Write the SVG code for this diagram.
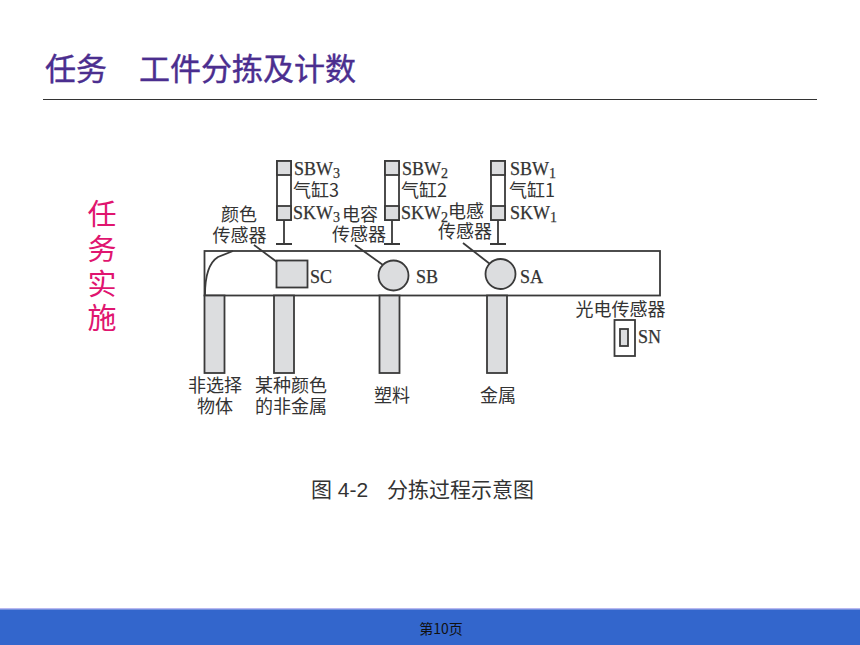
<svg xmlns="http://www.w3.org/2000/svg" width="860" height="645" viewBox="0 0 860 645">
<style>
.l{stroke:#3a3a3a;stroke-width:1.8;fill:none}
.g{stroke:#3a3a3a;stroke-width:1.8;fill:#dcdddf}
.w{stroke:#3a3a3a;stroke-width:1.8;fill:#fff}
.s{font-family:"Noto Sans CJK SC","Liberation Serif",serif;font-size:18px;fill:#333}
.e{font-family:"Liberation Serif",serif;font-size:18px;fill:#333;stroke:#333;stroke-width:.25}
.m{text-anchor:middle}
.t{font-family:"Noto Sans CJK SC",sans-serif;font-size:31px;fill:#4b2e8f;stroke:#4b2e8f;stroke-width:.4}
.v{font-family:"Noto Sans CJK SC",sans-serif;font-size:29px;fill:#e0156f;text-anchor:middle}
.c{font-family:"Liberation Sans","Noto Sans CJK SC",sans-serif;font-size:21px;fill:#333}
</style>
<rect width="860" height="645" fill="#fff"/>
<g id="title"><text class="t" x="45" y="80">任务</text><text class="t" x="139" y="80">工件分拣及计数</text><line x1="43" y1="99.500" x2="817" y2="99.500" stroke="#333" stroke-width="1"/></g>
<g id="side-label"><text class="v" x="102" y="225">任</text><text class="v" x="102" y="260">务</text><text class="v" x="102" y="295">实</text><text class="v" x="102" y="329">施</text></g>
<g id="conveyor"><rect class="w" x="204.500" y="251" width="455.500" height="44.500"/><path class="l" d="M205 295C205 275 210 262 218 257L233 251"/></g>
<g id="cylinder-3"><rect class="w" x="277" y="161" width="14" height="59"/><rect class="g" x="277" y="161" width="14" height="14"/><rect class="g" x="277" y="206" width="14" height="14"/><path class="l" d="M284 220V244M276 244H292"/><text class="e" x="294" y="175">SBW<tspan font-size="14" dy="3">3</tspan></text><text class="s" x="293" y="197" font-size="17">气缸3</text><text class="e" x="293" y="219">SKW<tspan font-size="14" dy="3">3</tspan></text></g>
<g id="cylinder-2"><rect class="w" x="385" y="161" width="14" height="59"/><rect class="g" x="385" y="161" width="14" height="14"/><rect class="g" x="385" y="206" width="14" height="14"/><path class="l" d="M392 220V244M384 244H400"/><text class="e" x="402" y="175">SBW<tspan font-size="14" dy="3">2</tspan></text><text class="s" x="401" y="197">气缸2</text><text class="e" x="401" y="219">SKW<tspan font-size="14" dy="3">2</tspan></text></g>
<g id="cylinder-1"><rect class="w" x="491" y="161" width="14" height="59"/><rect class="g" x="491" y="161" width="14" height="14"/><rect class="g" x="491" y="206" width="14" height="14"/><path class="l" d="M498 220V244M490 244H506"/><text class="e" x="510" y="175">SBW<tspan font-size="14" dy="3">1</tspan></text><text class="s" x="509" y="197">气缸1</text><text class="e" x="510" y="219">SKW<tspan font-size="14" dy="3">1</tspan></text></g>
<g id="sensor-sc"><rect class="g" x="276.500" y="260.500" width="31" height="27"/><text class="e" x="310" y="283">SC</text><text class="s m" x="239" y="221">颜色</text><text class="s m" x="239.500" y="242">传感器</text></g>
<g id="sensor-sb"><circle class="g" cx="393.500" cy="275.500" r="15"/><text class="e" x="416" y="283">SB</text><text class="s" x="342" y="221">电容</text><text class="s m" x="359" y="241">传感器</text></g>
<g id="sensor-sa"><circle class="g" cx="500.500" cy="274" r="15"/><text class="e" x="520" y="283">SA</text><text class="s" x="448" y="218">电感</text><text class="s m" x="465" y="238">传感器</text></g>
<g id="sensor-sn"><rect class="w" x="614.500" y="320" width="20.500" height="36"/><rect class="g" x="620" y="329" width="8" height="17"/><text class="e" x="638" y="343">SN</text><text class="s m" x="620.500" y="316">光电传感器</text></g>
<g id="bin-1"><rect class="g" x="204.500" y="295.500" width="20" height="77.500"/><text class="s m" x="215" y="392">非选择</text><text class="s m" x="215" y="413">物体</text></g>
<g id="bin-2"><rect class="g" x="274" y="295.500" width="20" height="77.500"/><text class="s m" x="291" y="392">某种颜色</text><text class="s m" x="291" y="413">的非金属</text></g>
<g id="bin-3"><rect class="g" x="379.500" y="295.500" width="20" height="77.500"/><text class="s m" x="392" y="402">塑料</text></g>
<g id="bin-4"><rect class="g" x="487" y="295.500" width="20" height="77.500"/><text class="s m" x="498" y="402">金属</text></g>
<g id="connectors"><line class="l" x1="254" y1="245" x2="277" y2="262"/><line class="l" x1="355" y1="245" x2="383" y2="265"/><line class="l" x1="463" y1="243" x2="490" y2="264"/></g>
<g id="caption"><text class="c" x="311" y="497">图 4-2</text><text class="c" x="387" y="497">分拣过程示意图</text></g>
<g id="footer"><rect x="0" y="608" width="860" height="37" fill="#3366cc"/><rect x="0" y="608" width="860" height="1.500" fill="#b8b8f0"/><text x="441" y="634" text-anchor="middle" font-family="Noto Sans CJK SC,sans-serif" font-size="14" fill="#111">第10页</text></g>
</svg>
